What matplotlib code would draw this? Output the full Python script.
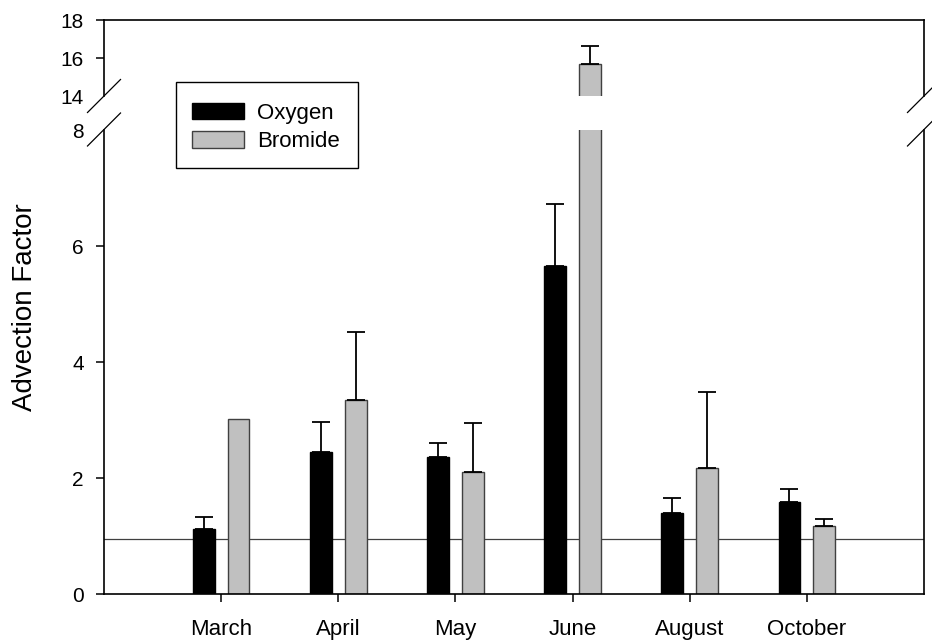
import numpy as np
import matplotlib
matplotlib.use("Agg")
import matplotlib.pyplot as plt
from matplotlib.lines import Line2D
from matplotlib.patches import Rectangle

plt.rcParams['font.family'] = ['Liberation Sans', 'DejaVu Sans']

months = ['March', 'April', 'May', 'June', 'August', 'October']
oxygen = [1.12, 2.44, 2.37, 5.66, 1.39, 1.58]
oxygen_err = [0.21, 0.52, 0.23, 1.07, 0.26, 0.23]
bromide = [3.01, 3.34, 2.11, 15.68, 2.17, 1.18]
bromide_err = [np.nan, 1.17, 0.84, 0.95, 1.32, 0.12]
reference_level = 0.94
series_names = ['Oxygen', 'Bromide']

W, H = 932, 642
fig = plt.figure(figsize=(W / 100, H / 100), dpi=100)

# axes boxes in pixel units: left, right, top, bottom
x0, x1 = 104, 924
up_top, up_bot = 20, 96
lo_top, lo_bot = 130, 594


def px(xp, yp):
    """Pixel position (from top-left) to figure fraction."""
    return xp / W, 1 - yp / H


def box(top, bot):
    return [x0 / W, 1 - bot / H, (x1 - x0) / W, (bot - top) / H]


ax_up = fig.add_axes(box(up_top, up_bot))
ax_lo = fig.add_axes(box(lo_top, lo_bot), sharex=ax_up)

x = np.arange(len(months))
bw = 0.185
off = 0.149
ox_color = 'black'
br_color = '#c0c0c0'
br_edge = '#404040'

for ax in (ax_up, ax_lo):
    ax.bar(x - off, oxygen, bw, color=ox_color, edgecolor='black', linewidth=1.0, zorder=2)
    ax.bar(x + off, bromide, bw, color=br_color, edgecolor=br_edge, linewidth=1.0, zorder=2)
    for pos, vals, errs in ((x - off, oxygen, oxygen_err), (x + off, bromide, bromide_err)):
        e = np.array(errs)
        m = np.isfinite(e)
        ax.errorbar(pos[m], np.array(vals)[m], yerr=[np.zeros(m.sum()), e[m]],
                    fmt='none', ecolor='black', elinewidth=1.3, capsize=6.5,
                    capthick=1.3, zorder=3)
    for s in ax.spines.values():
        s.set_linewidth(1.2)
    ax.tick_params(axis='y', which='major', direction='out', length=6, width=1.1,
                   labelsize=15, pad=8.5)
    ax.tick_params(axis='y', which='minor', length=0, labelsize=15, pad=14.5)

ax_lo.axhline(reference_level, color='#404040', linewidth=0.9, zorder=1)

ax_up.set_xlim(-1, 6)
ax_up.set_ylim(14, 18)
ax_lo.set_ylim(0, 8)

ax_up.spines['bottom'].set_visible(False)
ax_lo.spines['top'].set_visible(False)
ax_up.tick_params(axis='x', bottom=False, labelbottom=False)

ax_up.set_yticks([16, 18])
ax_up.set_yticks([14], minor=True)
ax_up.set_yticklabels(['14'], minor=True)

ax_lo.set_yticks([0, 2, 4, 6])
ax_lo.set_yticks([8], minor=True)
ax_lo.set_yticklabels(['8'], minor=True)

ax_lo.set_xticks(x)
ax_lo.set_xticklabels(months)
ax_lo.tick_params(axis='x', direction='out', length=6, width=1.1, labelsize=16, pad=12)

fig.text(*px(25, 307), 'Advection Factor', rotation=90, fontsize=20,
         ha='center', va='center')

# axis-break slashes on both sides
for xp in (x0, x1):
    for yp in (96, 129.5):
        (fa, fb), (fc, fd) = px(xp - 16.5, yp + 16.5), px(xp + 16.5, yp - 16.5)
        fig.add_artist(Line2D([fa, fc], [fb, fd], color='black', linewidth=0.9,
                              transform=fig.transFigure))

# legend box
lx0, ly0 = px(176, 168)
lx1, ly1 = px(358, 82)
fig.add_artist(Rectangle((lx0, ly0), lx1 - lx0, ly1 - ly0, transform=fig.transFigure,
                         facecolor='white', edgecolor='black', linewidth=1.0, zorder=5))
for (top, bot, base), name, fc, ec in zip(((103, 119, 119.3), (131, 148, 147.3)),
                                          series_names, (ox_color, br_color),
                                          ('black', br_edge)):
    a, b = px(192, bot)
    c, d = px(244, top)
    fig.add_artist(Rectangle((a, b), c - a, d - b, transform=fig.transFigure,
                             facecolor=fc, edgecolor=ec, linewidth=1.0, zorder=6))
    fig.text(*px(257, base), name, fontsize=16, ha='left', va='baseline', zorder=6)

fig.savefig('out.png', dpi=100)
